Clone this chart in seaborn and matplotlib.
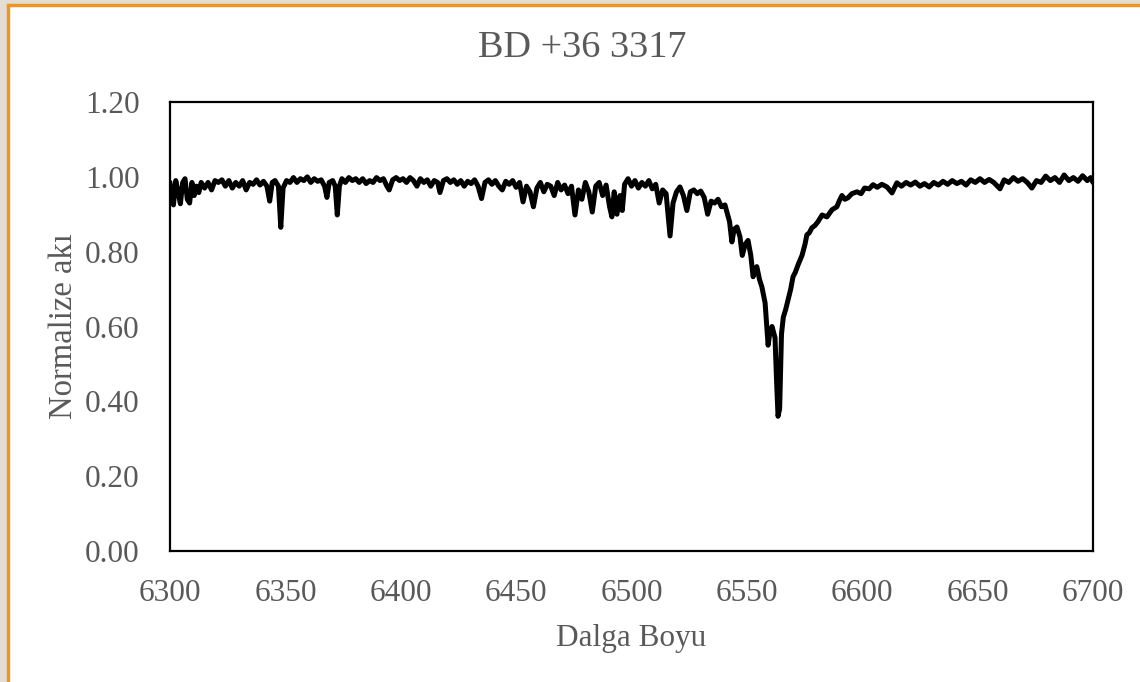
import matplotlib as mpl
import matplotlib.pyplot as plt
import pandas as pd
import seaborn as sns
from matplotlib.patches import Rectangle

# wavelength (Angstrom) and normalised flux
wavelength = [
    6300.0, 6300.8, 6301.5, 6302.5, 6303.5, 6304.5, 6305.5, 6306.5, 6307.5, 6308.5,
    6309.5, 6310.5, 6311.5, 6312.5, 6313.5, 6315.0, 6316.5, 6318.0, 6319.5, 6321.0,
    6322.5, 6324.0, 6325.5, 6327.0, 6328.5, 6330.0, 6331.5, 6333.0, 6334.5, 6336.0,
    6337.5, 6339.0, 6340.5, 6342.0, 6343.2, 6344.3, 6345.5, 6347.0, 6348.0, 6349.0,
    6350.5, 6352.0, 6353.5, 6355.0, 6356.5, 6358.0, 6359.5, 6361.0, 6362.5, 6364.0,
    6365.5, 6367.0, 6368.0, 6369.0, 6370.5, 6371.6, 6372.5, 6373.4, 6374.5, 6376.0,
    6377.5, 6379.0, 6380.5, 6382.0, 6383.5, 6385.0, 6386.5, 6388.0, 6389.5, 6391.0,
    6392.5, 6394.0, 6395.0, 6396.5, 6398.0, 6399.5, 6401.0, 6402.5, 6404.0, 6405.5,
    6407.0, 6408.5, 6410.0, 6411.5, 6413.0, 6414.5, 6416.0, 6417.0, 6418.5, 6420.0,
    6421.5, 6423.0, 6424.5, 6426.0, 6427.5, 6429.0, 6430.5, 6432.0, 6433.5, 6435.0,
    6436.5, 6438.0, 6439.5, 6441.0, 6442.5, 6444.0, 6445.5, 6447.0, 6448.5, 6450.0,
    6451.5, 6453.0, 6454.5, 6456.0, 6457.5, 6459.0, 6460.5, 6462.0, 6463.5, 6465.0,
    6466.5, 6468.0, 6469.5, 6471.0, 6472.5, 6474.0, 6475.5, 6477.0, 6478.5, 6480.0,
    6481.5, 6483.0, 6484.5, 6486.0, 6487.5, 6489.0, 6490.5, 6491.5, 6492.5, 6493.7,
    6495.0, 6496.0, 6497.0, 6498.5, 6500.0, 6501.5, 6503.0, 6504.5, 6506.0, 6507.5,
    6509.0, 6510.5, 6512.0, 6513.5, 6515.0, 6516.7, 6518.0, 6519.5, 6521.0, 6522.5,
    6524.0, 6525.5, 6527.0, 6528.5, 6530.0, 6531.5, 6533.0, 6534.5, 6536.0, 6537.5,
    6539.0, 6540.5, 6541.5, 6542.5, 6543.5, 6544.5, 6545.7, 6547.0, 6548.0, 6549.3,
    6550.5, 6551.7, 6552.7, 6554.3, 6555.5, 6556.5, 6557.9, 6559.2, 6560.0, 6560.9,
    6562.2, 6562.9, 6563.5, 6564.2, 6565.0, 6565.8, 6566.8, 6567.8, 6569.0, 6570.0,
    6571.0, 6572.2, 6573.9, 6575.2, 6576.0, 6577.0, 6578.2, 6579.5, 6580.8, 6582.6,
    6584.7, 6586.9, 6589.0, 6590.0, 6591.2, 6592.5, 6593.8, 6595.5, 6597.7, 6599.5,
    6601.0, 6603.0, 6604.7, 6606.5, 6608.5, 6610.7, 6612.9, 6615.0, 6617.0, 6619.0,
    6621.0, 6623.0, 6625.0, 6627.0, 6629.0, 6631.0, 6633.0, 6635.0, 6637.0, 6639.0,
    6641.0, 6643.0, 6645.0, 6647.0, 6649.0, 6651.0, 6653.0, 6655.0, 6657.0, 6659.7,
    6661.5, 6663.5, 6665.5, 6667.5, 6669.5, 6671.5, 6673.5, 6675.5, 6677.5, 6679.5,
    6681.5, 6683.5, 6685.5, 6687.5, 6689.5, 6691.5, 6693.5, 6695.5, 6697.5, 6699.0,
    6700.0,
]

flux = [
    0.985, 0.950, 0.925, 0.990, 0.960, 0.928, 0.985, 0.995, 0.940, 0.930,
    0.985, 0.950, 0.975, 0.958, 0.985, 0.970, 0.985, 0.965, 0.990, 0.985,
    0.992, 0.975, 0.990, 0.970, 0.985, 0.975, 0.990, 0.965, 0.985, 0.980,
    0.992, 0.978, 0.988, 0.975, 0.935, 0.985, 0.990, 0.975, 0.865, 0.970,
    0.990, 0.985, 0.998, 0.985, 0.995, 0.990, 1.000, 0.985, 0.995, 0.988,
    0.992, 0.975, 0.945, 0.985, 0.990, 0.975, 0.898, 0.975, 0.995, 0.985,
    0.998, 0.990, 0.995, 0.985, 0.995, 0.982, 0.990, 0.985, 0.998, 0.990,
    0.995, 0.975, 0.965, 0.992, 0.998, 0.990, 0.995, 0.985, 0.998, 0.990,
    0.975, 0.995, 0.985, 0.992, 0.975, 0.990, 0.985, 0.958, 0.990, 0.995,
    0.985, 0.992, 0.980, 0.990, 0.975, 0.988, 0.982, 0.992, 0.975, 0.942,
    0.985, 0.992, 0.980, 0.990, 0.975, 0.965, 0.988, 0.980, 0.990, 0.972,
    0.985, 0.933, 0.975, 0.960, 0.920, 0.970, 0.985, 0.960, 0.980, 0.975,
    0.950, 0.985, 0.965, 0.978, 0.955, 0.975, 0.898, 0.965, 0.940, 0.985,
    0.960, 0.906, 0.975, 0.985, 0.950, 0.978, 0.920, 0.893, 0.960, 0.900,
    0.950, 0.910, 0.980, 0.995, 0.975, 0.990, 0.970, 0.985, 0.975, 0.990,
    0.968, 0.980, 0.930, 0.965, 0.955, 0.842, 0.930, 0.960, 0.973, 0.950,
    0.910, 0.960, 0.965, 0.955, 0.962, 0.945, 0.900, 0.935, 0.930, 0.940,
    0.920, 0.925, 0.903, 0.880, 0.826, 0.860, 0.866, 0.840, 0.790, 0.820,
    0.830, 0.790, 0.733, 0.760, 0.725, 0.706, 0.663, 0.550, 0.585, 0.600,
    0.570, 0.450, 0.360, 0.380, 0.580, 0.625, 0.645, 0.670, 0.700, 0.733,
    0.745, 0.765, 0.790, 0.820, 0.845, 0.850, 0.864, 0.870, 0.880, 0.898,
    0.893, 0.912, 0.920, 0.935, 0.950, 0.940, 0.944, 0.955, 0.960, 0.955,
    0.970, 0.968, 0.979, 0.972, 0.980, 0.973, 0.957, 0.984, 0.975, 0.985,
    0.978, 0.986, 0.975, 0.982, 0.973, 0.985, 0.978, 0.988, 0.980, 0.990,
    0.982, 0.988, 0.978, 0.992, 0.985, 0.995, 0.985, 0.993, 0.985, 0.968,
    0.992, 0.985, 0.998, 0.988, 0.995, 0.985, 0.970, 0.990, 0.985, 1.002,
    0.990, 0.998, 0.985, 1.005, 0.990, 0.998, 0.988, 1.003, 0.990, 0.998,
    0.985,
]

x_ticks = [6300, 6350, 6400, 6450, 6500, 6550, 6600, 6650, 6700]
y_ticks = [0.0, 0.2, 0.4, 0.6, 0.8, 1.0, 1.2]


def main():
    df = pd.DataFrame({'Dalga Boyu': wavelength, 'Normalize akı': flux})

    sns.set_style('white')
    plt.rcParams['font.family'] = ['Liberation Serif', 'DejaVu Serif']
    grey = '#595959'

    fig = plt.figure(figsize=(11.4, 6.82), dpi=100)
    fig.patch.set_facecolor('white')

    # screenshot frame: beige strip and orange border at top and left
    fig.patches.append(Rectangle((0, 1 - 3.5 / 682), 1, 3.5 / 682, transform=fig.transFigure,
                                 color='#E3DED4', zorder=0))
    fig.patches.append(Rectangle((0, 0), 6.5 / 1140, 1, transform=fig.transFigure,
                                 color='#E3DED4', zorder=0))
    fig.patches.append(Rectangle((6.5 / 1140, 1 - 6 / 682), 1, 2.5 / 682, transform=fig.transFigure,
                                 color='#F39322', zorder=1))
    fig.patches.append(Rectangle((6.5 / 1140, 0), 2.5 / 1140, 1 - 3.5 / 682, transform=fig.transFigure,
                                 color='#F39322', zorder=1))

    ax = fig.add_axes([170 / 1140, 1 - 551 / 682, 923 / 1140, 449 / 682])

    sns.lineplot(data=df, x='Dalga Boyu', y='Normalize akı', color='black',
                 linewidth=3.6, estimator=None, sort=False, ax=ax)

    ax.set_xlim(6300, 6700)
    ax.set_ylim(0, 1.2)
    ax.set_xticks(x_ticks)
    ax.set_yticks(y_ticks)
    ax.set_yticklabels([f'{v:.2f}' for v in y_ticks])

    for side in ['left', 'right', 'top', 'bottom']:
        ax.spines[side].set_visible(True)
        ax.spines[side].set_color('black')
        ax.spines[side].set_linewidth(1.6)

    ax.tick_params(axis='both', length=0, labelsize=22.5, colors=grey)
    ax.tick_params(axis='x', pad=20)
    ax.tick_params(axis='y', pad=22)

    ax.set_xlabel('Dalga Boyu', fontsize=22.5, color=grey, labelpad=12)
    ax.set_ylabel('Normalize akı', fontsize=23.5, color=grey, labelpad=4)
    fig.suptitle('BD +36 3317', x=582 / 1140, y=1 - 48 / 682, va='center',
                 fontsize=27.5, color=grey)

    plt.savefig('out.png', dpi=100)


if __name__ == '__main__':
    main()
